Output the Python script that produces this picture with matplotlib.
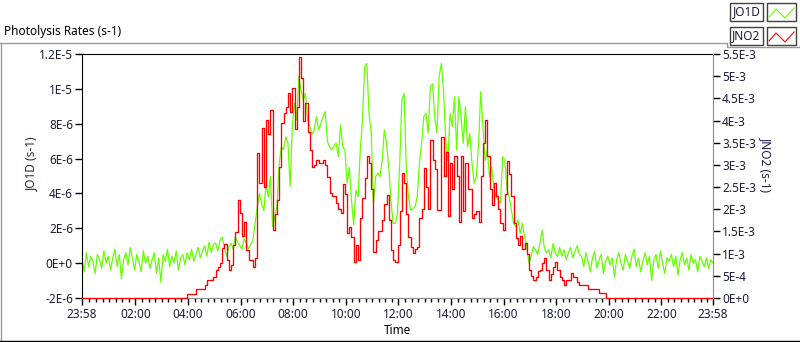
import numpy as np
import matplotlib.pyplot as plt
from matplotlib.lines import Line2D
from matplotlib.patches import Rectangle

plt.rcParams['font.family'] = ['Noto Sans', 'DejaVu Sans']

# JO1D (units of 1E-6 s-1), one value every 5 minutes from 23:58
jo1d = [
    0.3, -0.5, 0.6, -0.2, 0.4, 0.1, -0.6, 0.5, 0.2, -0.3,
    0.7, 0.0, 0.4, -0.4, 0.3, 0.8, -0.2, 0.5, -0.9, 0.2,
    0.6, -0.1, 0.9, 0.3, -0.4, 0.5, 0.1, -0.5, 0.7, 0.0,
    0.4, -0.3, 0.2, 0.6, -0.6, 0.3, -1.1, 0.5, 0.1, 0.8,
    -0.2, 0.4, 0.0, 0.7, -0.4, 0.3, 0.5, -0.1, 0.6, 0.2,
    0.8, 0.1, 0.5, 0.9, 0.3, 0.7, 1.0, 0.4, 1.2, 0.6, 1.1,
    1.15, 0.7, 1.3, 1.5, 0.9, 0.4, 0.9, 1.15, 0.8, 1.5,
    1.2, 1.0, 0.8, 1.4, 1.15, 0.8, 1.1, 1.3, 2.28, 3.2,
    4.0, 3.4, 3.0, 4.6, 3.8, 4.96, 2.09, 2.66, 3.3, 5.72,
    6.68, 6.5, 7.25, 6.9, 4.4, 7.83, 9.17, 8.2, 10.7, 9.9,
    9.36, 9.74, 8.2, 7.83, 7.4, 7.64, 8.4, 7.64, 8.0, 8.4,
    8.69, 7.0, 6.68, 6.5, 6.7, 6.88, 6.1, 7.92, 6.68, 6.5,
    4.58, 5.5, 3.6, 2.19, 4.2, 3.8, 6.5, 8.2, 11.27, 11.46,
    8.6, 7.45, 3.4, 4.96, 5.15, 4.96, 5.9, 7.64, 6.88, 5.5,
    3.6, 2.28, 2.28, 2.85, 5.7, 9.36, 9.74, 5.53, 3.8, 3.05,
    3.1, 3.24, 3.8, 5.72, 6.87, 8.4, 8.6, 7.45, 10.12, 10.3,
    8.4, 7.45, 10.7, 11.46, 9.93, 7.06, 5.9, 8.6, 7.83, 9.55,
    6.49, 9.55, 8.4, 6.87, 8.98, 6.68, 7.45, 5.72, 4.58, 4.96,
    6.87, 9.83, 7.83, 5.9, 6.49, 4.96, 5.53, 4.2, 3.8, 3.6,
    3.43, 6.1, 5.9, 4.2, 3.8, 3.05, 2.28, 2.09, 2.48, 1.71,
    2.28, 1.52, 0.95, 0.0, 0.38, 0.95, 0.76, 0.5, 1.14, 1.9,
    0.9, 0.57, 0.76, 0.3, 1.14, 0.57, 0.38, 0.9, 0.4, 0.76,
    0.2, 0.6, 0.9, 0.3, 0.7, 1.0, 0.5,
    0.4, -0.2, 0.6, 0.1, -0.5, 0.3, 0.7, -0.3, 0.2, 0.5,
    -0.6, 0.1, 0.4, -0.1, 0.3, -0.8, 0.2, 0.6, 0.0, -0.4,
    0.5, 0.1, -0.3, 0.4, 0.8, -0.2, 0.3, -0.5, 0.1, 0.6,
    -0.1, 0.4, -1.0, 0.2, 0.5, -0.3, 0.7, 0.0, -0.6, 0.3,
    0.1, 0.5, -0.2, 0.4, -0.7, 0.2, 0.6, -0.1, 0.3, -0.4,
    0.5, 0.0, 0.2, -0.5, 0.4, 0.1, -0.2, 0.3, -0.3, 0.2, 0.0,
]

# JNO2 (units of 1E-3 s-1), same 5 minute grid
jno2 = [0.0] * 48 + [
    0.08, 0.08, 0.08, 0.08, 0.2, 0.2, 0.2, 0.2, 0.29, 0.4,
    0.4, 0.4, 0.48, 0.63, 0.7, 0.78, 1.12, 1.21, 0.86, 0.63,
    0.75, 1.2, 1.49, 2.21, 1.91, 1.4, 1.71, 1.08, 0.86, 0.86,
    0.71, 0.9, 3.26, 2.6, 3.83, 2.5, 4.01, 3.7, 4.24, 1.53,
    1.9, 2.2, 2.95, 3.95, 4.16, 4.31, 4.61, 4.2, 4.73, 3.8,
    4.31, 5.44, 4.95, 4.0, 4.4, 3.75, 3.34, 2.96, 3.0, 3.11,
    3.05, 3.05, 3.11, 3.0, 2.73, 2.36, 2.3, 2.3, 2.15, 2.0,
    1.91, 2.58, 2.35, 1.46, 1.6, 1.37, 0.82, 1.2, 0.86, 1.8,
    2.25, 2.7, 3.2, 3.05, 2.45, 1.04, 1.3, 1.5, 1.5, 1.75,
    2.13, 2.32, 1.75, 1.08, 0.86, 0.82, 1.2, 1.95, 2.81, 2.6,
    1.9, 1.38, 1.15, 1.01, 1.1, 1.15, 1.8, 2.0, 2.92, 2.5,
    2.0, 3.56, 3.1, 2.9, 1.98, 1.98, 3.62, 2.75, 3.3, 1.85,
    3.05, 2.45, 3.2, 2.75, 1.72, 3.2, 1.95, 3.05, 2.45, 2.45,
    1.8, 1.9, 1.95, 1.72, 2.75, 3.5, 4.01, 3.2, 2.45, 2.1,
    2.6, 2.3, 2.0, 1.7, 1.53, 2.35, 3.08, 2.8, 2.3, 1.7,
    1.35, 1.2, 1.4, 1.1, 1.25, 1.0, 0.63, 0.5, 0.41, 0.48,
    0.6, 0.63, 0.78, 0.9, 0.63, 0.41, 0.55, 0.7, 0.82, 0.63,
    0.48, 0.4, 0.29, 0.41, 0.41, 0.56, 0.48, 0.48, 0.37, 0.29,
    0.29, 0.29, 0.29, 0.2, 0.2, 0.2, 0.2, 0.2, 0.11, 0.11,
    0.11,
] + [0.0] * 50

x_tick_labels = ['23:58', '02:00', '04:00', '06:00', '08:00', '10:00', '12:00',
                 '14:00', '16:00', '18:00', '20:00', '22:00', '23:58']
left_tick_labels = ['-2E-6', '0E+0', '2E-6', '4E-6', '6E-6', '8E-6', '1E-5', '1.2E-5']
right_tick_labels = ['0E+0', '5E-4', '1E-3', '1.5E-3', '2E-3', '2.5E-3', '3E-3',
                     '3.5E-3', '4E-3', '4.5E-3', '5E-3', '5.5E-3']

W, H = 800, 342
def fx(p):
    return p / W
def fy(p):
    return 1 - p / H

txt = '#1c1c3a'
fig = plt.figure(figsize=(8, 3.42), dpi=100)
ax = fig.add_axes([fx(82), fy(298), (713 - 82) / W, (298 - 54) / H])
ax2 = ax.twinx()

t_o1d = np.arange(len(jo1d)) / 12.0
t_no2 = np.arange(len(jno2)) / 12.0
ax.plot(t_o1d, np.array(jo1d) * 1e-6, color='#66ff00', lw=0.9)
ax2.plot(t_no2, np.array(jno2) * 1e-3, color='#ff0000', lw=0.95,
         drawstyle='steps-post', clip_on=False)

ax.set_xlim(0, 24)
ax.set_ylim(-2e-6, 1.2e-5)
ax2.set_ylim(0, 5.5e-3)

off = 2 / 60
ax.set_xticks([0] + [h + off for h in range(2, 23, 2)] + [24])
ax.set_xticklabels(x_tick_labels)
ax.set_xticks([k * 0.25 + off for k in range(1, 96) if (k * 0.25) % 2 != 0], minor=True)
ax.set_yticks(np.arange(len(left_tick_labels)) * 2e-6 - 2e-6)
ax.set_yticklabels(left_tick_labels)
ax2.set_yticks(np.arange(len(right_tick_labels)) * 5e-4)
ax2.set_yticklabels(right_tick_labels)

ax.tick_params(axis='x', which='major', direction='out', length=5, width=1,
               pad=2, labelsize=8.5, labelcolor=txt, color='black')
ax.tick_params(axis='x', which='minor', direction='out', length=3, width=1, color='black')
ax.tick_params(axis='y', direction='out', length=5, width=1, pad=1.5,
               labelsize=8.5, labelcolor=txt, color='black')
ax2.tick_params(axis='y', direction='out', length=5, width=1, pad=1.5,
                labelsize=8.5, labelcolor=txt, color='black')

for s in ['left', 'top']:
    ax.spines[s].set_color('black')
ax.spines['bottom'].set_color('#8c8c8c')
ax.spines['right'].set_visible(False)
for s in ['left', 'top', 'bottom']:
    ax2.spines[s].set_visible(False)
ax2.spines['right'].set_color('#8c8c8c')

fig.text(fx(31), fy(164), 'JO1D (s-1)', rotation=90, ha='center', va='center',
         fontsize=8.5, color='#3a1a3a')
fig.text(fx(766), fy(165), 'JNO2 (s-1)', rotation=270, ha='center', va='center',
         fontsize=8.5, color='#1a1a4a')
fig.text(fx(397), fy(331), 'Time', ha='center', va='center', fontsize=8.5, color='black')
fig.text(fx(4), fy(31), 'Photolysis Rates (s-1)', ha='left', va='center',
         fontsize=8.5, color='black')

# panel frame
gray = '#9a9a9a'
fig.add_artist(Line2D([fx(0), fx(727)], [fy(42.5), fy(42.5)], color=gray, lw=1))
fig.add_artist(Line2D([fx(727), fx(727), fx(800)], [fy(42.5), fy(47), fy(47)], color=gray, lw=1))
fig.add_artist(Line2D([fx(0.5), fx(0.5)], [fy(42.5), fy(341)], color=gray, lw=1))
fig.add_artist(Line2D([fx(0), fx(800)], [fy(341), fy(341)], color='black', lw=1))

# legend
for i, (name, col) in enumerate([('JO1D', '#66ff00'), ('JNO2', '#ff0000')]):
    top = 3 + i * 24
    fig.add_artist(Rectangle((fx(730), fy(top + 18)), 33 / W, 18 / H,
                             transform=fig.transFigure, fill=False, ec='#404040', lw=1))
    fig.add_artist(Rectangle((fx(767), fy(top + 18)), 29 / W, 18 / H,
                             transform=fig.transFigure, fill=False, ec='#404040', lw=1))
    fig.text(fx(746.5), fy(top + 9), name, ha='center', va='center', fontsize=8.5, color=txt)
    fig.add_artist(Line2D([fx(769), fx(776), fx(785), fx(794)],
                          [fy(top + 14), fy(top + 6), fy(top + 15), fy(top + 5)],
                          color=col, lw=0.8))

fig.savefig('out.png', dpi=100)
